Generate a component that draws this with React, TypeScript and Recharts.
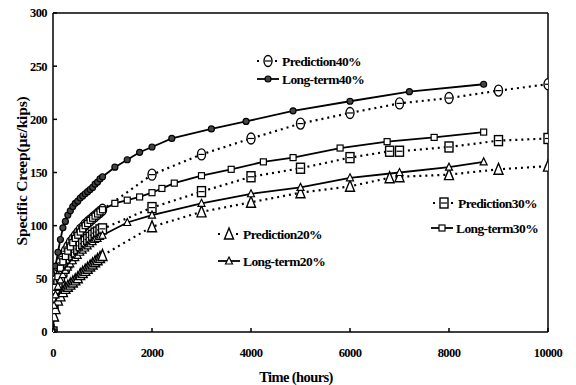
import { LineChart, Line, XAxis, YAxis, ReferenceLine } from 'recharts';

// [time (hours), specific creep (µε/kips)]
const lt40 = [
  [0, 0], [20, 45], [50, 62], [100, 75], [150, 87], [200, 98], [250, 104], [300, 110], [350, 114],
  [400, 118], [450, 121], [500, 123], [550, 126], [600, 128], [650, 130], [700, 132], [750, 134],
  [800, 136], [850, 139], [900, 141], [950, 144], [1000, 146], [1250, 155], [1500, 162], [1750, 169],
  [2000, 174], [2400, 182], [3200, 191], [3900, 198], [4850, 208], [6000, 217], [7200, 226], [8700, 233],
];
const pr40 = [
  [0, 0], [20, 35], [50, 48], [100, 58], [150, 65], [200, 71], [250, 76], [300, 80], [350, 84],
  [400, 87], [450, 90], [500, 93], [550, 96], [600, 98], [650, 101], [700, 103], [750, 105],
  [800, 107], [850, 109], [900, 111], [950, 113], [1000, 115], [2000, 148], [3000, 167], [4000, 182],
  [5000, 196], [6000, 206], [7000, 215], [8000, 220], [9000, 227], [10000, 233],
];
const lt30 = [
  [0, 0], [20, 30], [50, 42], [100, 52], [150, 60], [200, 66], [250, 71], [300, 76], [350, 80],
  [400, 84], [450, 88], [500, 91], [550, 94], [600, 97], [650, 100], [700, 102], [750, 105],
  [800, 107], [850, 109], [900, 111], [950, 113], [1000, 115], [1250, 121], [1500, 124], [1750, 127],
  [2000, 131], [2200, 135], [2450, 140], [3000, 147], [3600, 153], [4250, 160], [4850, 164],
  [5800, 173], [6750, 179], [7700, 183], [8700, 188],
];
const pr30 = [
  [0, 0], [20, 25], [50, 36], [100, 45], [150, 52], [200, 57], [250, 61], [300, 65], [350, 69],
  [400, 72], [450, 75], [500, 78], [550, 81], [600, 83], [650, 85], [700, 87], [750, 89],
  [800, 91], [850, 93], [900, 94], [950, 96], [1000, 97], [2000, 117], [3000, 132], [4000, 146],
  [5000, 154], [6000, 164], [6800, 170], [7000, 170], [8000, 174], [9000, 180], [10000, 182],
];
const lt20 = [
  [0, 0], [20, 25], [50, 35], [100, 43], [150, 49], [200, 54], [250, 58], [300, 61], [350, 64],
  [400, 67], [450, 70], [500, 72], [550, 75], [600, 77], [650, 79], [700, 81], [750, 83],
  [800, 85], [850, 87], [900, 88], [950, 90], [1000, 91], [1500, 103], [2000, 110], [3000, 121],
  [4000, 130], [5000, 136], [6000, 145], [7000, 150], [8000, 155], [8700, 160],
];
const pr20 = [
  [0, 0], [20, 15], [50, 22], [100, 30], [150, 34], [200, 38], [250, 41], [300, 43], [350, 45],
  [400, 47], [450, 49], [500, 51], [550, 54], [600, 56], [650, 58], [700, 60], [750, 62],
  [800, 64], [850, 66], [900, 68], [950, 70], [1000, 72], [2000, 99], [3000, 113], [4000, 122],
  [5000, 131], [6000, 137], [6800, 145], [7000, 146], [8000, 148], [9000, 153], [10000, 156],
];

const xTicks = [0, 2000, 4000, 6000, 8000, 10000];
const yTicks = [0, 50, 100, 150, 200, 250, 300];

const toPts = (a: number[][]) => a.map(([t, v]) => ({ t, v }));

const FONT = 'Liberation Serif';
const tickStyle = { fontFamily: FONT, fontWeight: 700, fontSize: 12.5, fill: '#000', letterSpacing: -0.6 };

// marker shapes
const Theta = ({ cx, cy }: any) => (
  <g>
    <ellipse cx={cx} cy={cy} rx={4} ry={5.5} fill="#fff" stroke="#000" strokeWidth={1.4} />
    <line x1={cx - 3} x2={cx + 3} y1={cy} y2={cy} stroke="#000" strokeWidth={1.2} />
  </g>
);
const BoxMark = ({ cx, cy }: any) => (
  <g>
    <rect x={cx - 4} y={cy - 5} width={8} height={10} fill="#fff" stroke="#000" strokeWidth={1.4} />
    <line x1={cx - 3} x2={cx + 3} y1={cy} y2={cy} stroke="#000" strokeWidth={1.2} />
  </g>
);
const Tri = ({ cx, cy }: any) => (
  <path d={`M${cx},${cy - 6} L${cx + 4.5},${cy + 5} L${cx - 4.5},${cy + 5} Z`} fill="#fff" stroke="#000" strokeWidth={1.4} />
);
const SmallDot = ({ cx, cy }: any) => <circle cx={cx} cy={cy} r={3} fill="#444" stroke="#000" strokeWidth={1.2} />;
const SmallBox = ({ cx, cy }: any) => (
  <rect x={cx - 3} y={cy - 3} width={6} height={6} fill="#fff" stroke="#000" strokeWidth={1.2} />
);
const SmallTri = ({ cx, cy }: any) => (
  <path d={`M${cx},${cy - 4} L${cx + 3.5},${cy + 3} L${cx - 3.5},${cy + 3} Z`} fill="#fff" stroke="#000" strokeWidth={1.2} />
);

const dotFn = (Comp: any) => (p: any) => <Comp key={p.index} cx={p.cx} cy={p.cy} />;

const series = [
  { name: 'Prediction40%', data: pr40, dash: '2 4', Mark: Theta },
  { name: 'Long-term40%', data: lt40, dash: undefined, Mark: SmallDot },
  { name: 'Prediction30%', data: pr30, dash: '2 4', Mark: BoxMark },
  { name: 'Long-term30%', data: lt30, dash: undefined, Mark: SmallBox },
  { name: 'Prediction20%', data: pr20, dash: '2 4', Mark: Tri },
  { name: 'Long-term20%', data: lt20, dash: undefined, Mark: SmallTri },
];

const textStyle = { fontFamily: FONT, fontWeight: 700 };

function LegendItem({ x, y, dashed, Mark, label }: any) {
  return (
    <g>
      {dashed ? (
        <line x1={x} x2={x + 22} y1={y} y2={y} stroke="#000" strokeWidth={2.2} strokeDasharray="2 7" />
      ) : (
        <line x1={x} x2={x + 22} y1={y} y2={y} stroke="#000" strokeWidth={1.8} />
      )}
      <Mark cx={x + 11} cy={y} />
      <text x={x + 25} y={y} dy="0.35em" style={{ ...textStyle, fontSize: 13.5, letterSpacing: -0.6 }} fill="#000">
        {label}
      </text>
    </g>
  );
}

export default function App() {
  return (
    <div style={{ position: 'absolute', left: 0, top: 0, width: 576, height: 385, background: '#fff' }}>
      <LineChart width={576} height={385} margin={{ top: 13, right: 28, bottom: 23, left: 13 }}>
        <XAxis
          type="number"
          dataKey="t"
          domain={[0, 10000]}
          ticks={xTicks}
          tick={tickStyle}
          tickSize={-4}
          tickMargin={20}
          height={30}
          stroke="#000"
          strokeWidth={1.5}
          allowDataOverflow
        />
        <YAxis
          type="number"
          dataKey="v"
          domain={[0, 300]}
          ticks={yTicks}
          tick={tickStyle}
          tickSize={-4}
          tickMargin={10}
          width={40}
          stroke="#000"
          strokeWidth={1.5}
          allowDataOverflow
        />
        <ReferenceLine y={300} stroke="#000" strokeWidth={1.5} ifOverflow="extendDomain" />
        <ReferenceLine x={10000} stroke="#000" strokeWidth={1.5} ifOverflow="extendDomain" />
        {series.map((s) => (
          <Line
            key={s.name}
            name={s.name}
            data={toPts(s.data)}
            dataKey="v"
            type="linear"
            stroke="#000"
            strokeWidth={s.dash ? 2.2 : 1.8}
            strokeDasharray={s.dash}
            dot={dotFn(s.Mark)}
            activeDot={false}
            isAnimationActive={false}
          />
        ))}
      </LineChart>
      <svg width={576} height={385} style={{ position: 'absolute', left: 0, top: 0, pointerEvents: 'none' }}>
        <LegendItem x={257} y={61} dashed Mark={Theta} label="Prediction40%" />
        <LegendItem x={257} y={79} Mark={SmallDot} label="Long-term40%" />
        <LegendItem x={433} y={203} dashed Mark={BoxMark} label="Prediction30%" />
        <LegendItem x={431} y={228} Mark={SmallBox} label="Long-term30%" />
        <LegendItem x={218} y={234} dashed Mark={Tri} label="Prediction20%" />
        <LegendItem x={218} y={261} Mark={SmallTri} label="Long-term20%" />
        <text x={296} y={377} dy="0.35em" textAnchor="middle" style={{ ...textStyle, fontSize: 14.5, letterSpacing: -0.6 }}>
          Time (hours)
        </text>
        <text
          x={22}
          y={171}
          dy="0.35em"
          textAnchor="middle"
          transform="rotate(-90 22 171)"
          style={{ ...textStyle, fontSize: 15.5, letterSpacing: -0.2 }}
        >
          Specific Creep(µε/kips)
        </text>
      </svg>
    </div>
  );
}
